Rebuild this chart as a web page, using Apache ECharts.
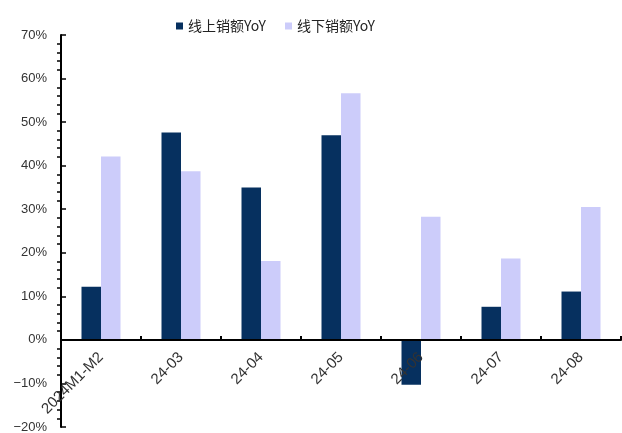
<!DOCTYPE html>
<html>
<head>
<meta charset="utf-8">
<script src="https://cdn.jsdelivr.net/npm/echarts@6/dist/echarts.min.js"></script>
<style>
  html, body { margin: 0; padding: 0; background: #fff; }
  #chart { width: 622px; height: 433px; }
</style>
</head>
<body>
<div id="chart"></div>
<script>
// Monthly sales growth, online vs offline (%)
const categories = ['2024M1-M2', '24-03', '24-04', '24-05', '24-06', '24-07', '24-08'];
const onlineYoY = [12.2, 47.6, 35.0, 47.0, -10.3, 7.6, 11.1];
const offlineYoY = [42.1, 38.7, 18.1, 56.6, 28.3, 18.7, 30.5];
const seriesNames = ['线上销额YoY', '线下销额YoY'];
const yMin = -20, yMax = 70, yStep = 10;

const chart = echarts.init(document.getElementById('chart'));
chart.setOption({
  animation: false,
  legend: {
    left: 171,
    top: 14,
    itemWidth: 7,
    itemHeight: 7,
    itemGap: 19,
    icon: 'rect',
    textStyle: { fontFamily: 'Noto Sans CJK SC', fontSize: 14, color: '#222' },
    data: seriesNames
  },
  grid: { left: 61, right: 1, top: 35, bottom: 6, containLabel: false, outerBoundsMode: 'none' },
  xAxis: {
    type: 'category',
    data: categories,
    position: 'bottom',
    z: 5,
    axisLine: { onZero: false, lineStyle: { color: '#000', width: 2 } },
    axisTick: { show: true, inside: true, length: 4, lineStyle: { color: '#000', width: 2 } },
    axisLabel: {
      rotate: 45,
      margin: 15,
      fontFamily: 'Liberation Sans',
      fontSize: 15,
      color: '#333'
    }
  },
  yAxis: {
    type: 'value',
    min: yMin,
    max: yMax,
    interval: yStep,
    z: 5,
    axisLine: { show: true, lineStyle: { color: '#000', width: 2 } },
    axisTick: { show: true, inside: true, length: 5, lineStyle: { color: '#000', width: 1.5 } },
    minorTick: { show: true, splitNumber: 5, length: -4, lineStyle: { color: '#000', width: 1.5 } },
    splitLine: { show: false },
    axisLabel: {
      margin: 14,
      fontFamily: 'Liberation Sans',
      fontSize: 13,
      color: '#333',
      formatter: v => (v < 0 ? '−' + Math.abs(v) : v) + '%'
    }
  },
  series: [
    {
      name: seriesNames[0],
      type: 'bar',
      data: onlineYoY,
      barWidth: 19.5,
      barGap: '0%',
      itemStyle: { color: '#06305f' }
    },
    {
      name: seriesNames[1],
      type: 'bar',
      data: offlineYoY,
      barWidth: 19.5,
      barGap: '0%',
      itemStyle: { color: '#ccccfa' }
    }
  ]
});

// Lift the category axis (line, ticks and labels) up to the 0% level
const yZero = chart.convertToPixel({ yAxisIndex: 0 }, 0);
const yBottom = chart.convertToPixel({ yAxisIndex: 0 }, yMin);
chart.setOption({ xAxis: { offset: -(yBottom - yZero) } });
</script>
</body>
</html>
